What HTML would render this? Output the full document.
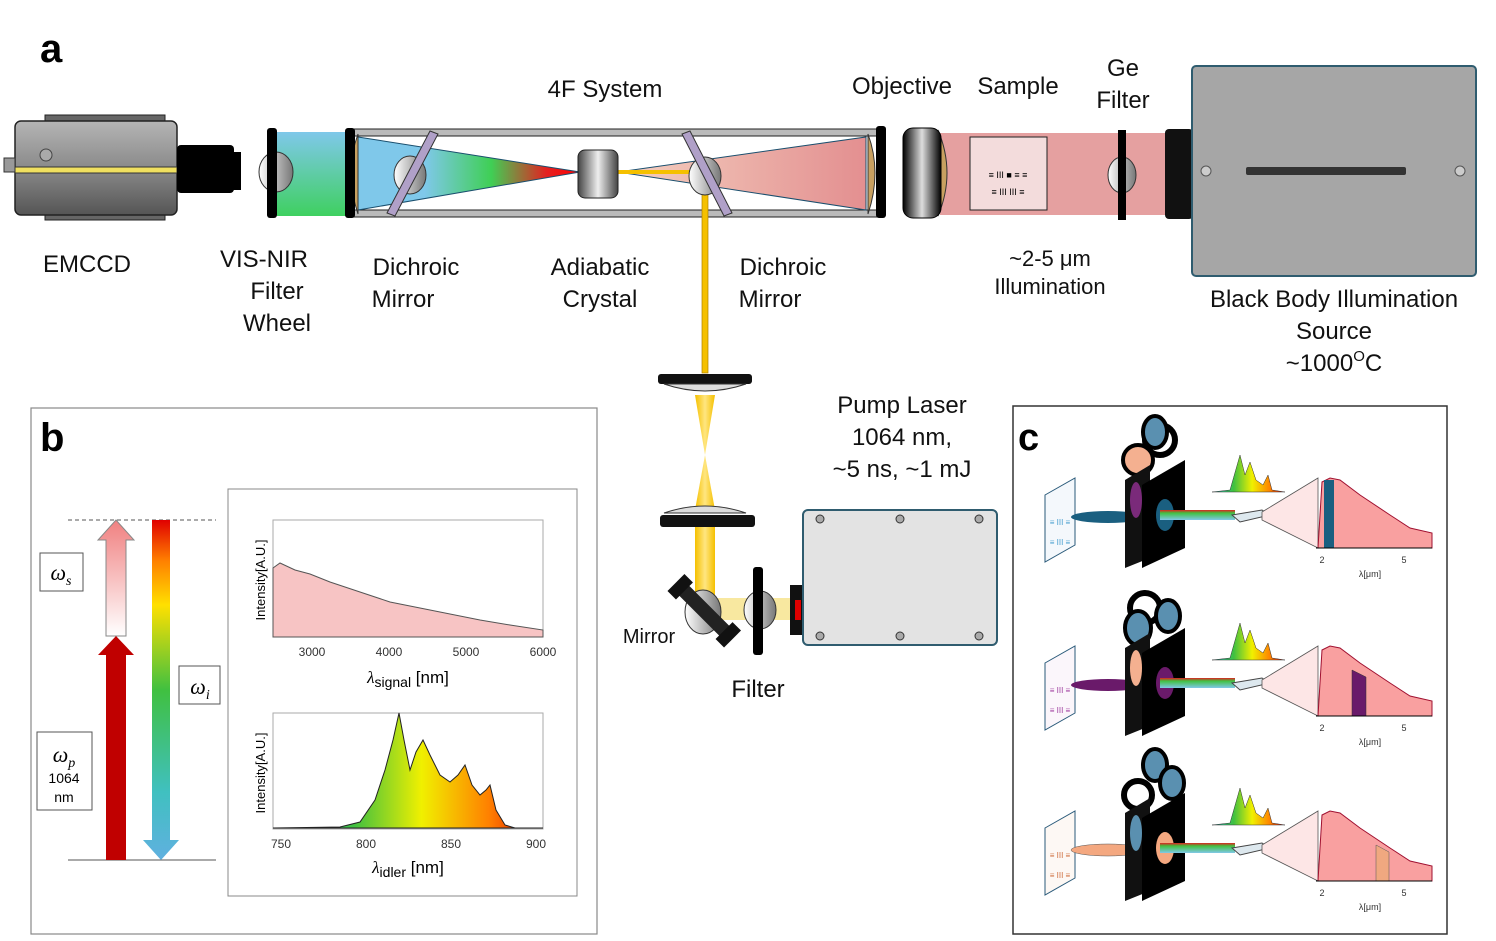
<!DOCTYPE html>
<html><head><meta charset="utf-8"><style>
html,body{margin:0;padding:0;background:#fff}
svg{display:block;font-family:"Liberation Sans",Arial,sans-serif}
</style></head><body>
<svg width="1496" height="941" viewBox="0 0 1496 941" xmlns="http://www.w3.org/2000/svg">
<defs>
<linearGradient id="cam" x1="0" y1="0" x2="0" y2="1"><stop offset="0" stop-color="#b5b5b5"/><stop offset="0.5" stop-color="#8a8a8a"/><stop offset="1" stop-color="#555"/></linearGradient>
<linearGradient id="bg1" x1="0" y1="0" x2="0" y2="1"><stop offset="0" stop-color="#7fc8ea"/><stop offset="1" stop-color="#3fd060"/></linearGradient>
<linearGradient id="cone1" x1="0" y1="0" x2="1" y2="0"><stop offset="0" stop-color="#7fc8ea"/><stop offset="0.3" stop-color="#7fc8ea"/><stop offset="0.6" stop-color="#3fcf55"/><stop offset="0.85" stop-color="#e42020"/><stop offset="1" stop-color="#ff0000"/></linearGradient>
<linearGradient id="cone2" x1="0" y1="0" x2="1" y2="0"><stop offset="0" stop-color="#f4d0c0"/><stop offset="1" stop-color="#e38f90"/></linearGradient>
<linearGradient id="lens" x1="0" y1="0" x2="1" y2="0"><stop offset="0" stop-color="#fff"/><stop offset="1" stop-color="#777"/></linearGradient>
<linearGradient id="obj" x1="0" y1="0" x2="1" y2="0"><stop offset="0" stop-color="#000"/><stop offset="0.5" stop-color="#ddd"/><stop offset="1" stop-color="#000"/></linearGradient>
<linearGradient id="yel" x1="0" y1="0" x2="1" y2="0"><stop offset="0" stop-color="#f5c000"/><stop offset="0.5" stop-color="#ffe680"/><stop offset="1" stop-color="#f5c000"/></linearGradient>
<linearGradient id="arrR" x1="0" y1="0" x2="0" y2="1"><stop offset="0" stop-color="#f08080"/><stop offset="1" stop-color="#fff"/></linearGradient>
<linearGradient id="rain" x1="0" y1="0" x2="0" y2="1"><stop offset="0" stop-color="#e00000"/><stop offset="0.12" stop-color="#ff8000"/><stop offset="0.25" stop-color="#ffe000"/><stop offset="0.5" stop-color="#40c040"/><stop offset="0.8" stop-color="#40c0c0"/><stop offset="1" stop-color="#60b0e0"/></linearGradient>
<linearGradient id="rainH" x1="0" y1="0" x2="1" y2="0"><stop offset="0" stop-color="#20c0c0"/><stop offset="0.3" stop-color="#40c040"/><stop offset="0.55" stop-color="#f0f000"/><stop offset="0.8" stop-color="#ff8000"/><stop offset="1" stop-color="#e00000"/></linearGradient>
<linearGradient id="beam" x1="0" y1="0" x2="0" y2="1"><stop offset="0" stop-color="#e02020"/><stop offset="0.3" stop-color="#40c040"/><stop offset="1" stop-color="#80c8e8"/></linearGradient>
<linearGradient id="cryst" x1="0" y1="0" x2="1" y2="0"><stop offset="0" stop-color="#444"/><stop offset="0.5" stop-color="#eee"/><stop offset="1" stop-color="#444"/></linearGradient>
</defs>

<!-- ===== Panel a ===== -->
<text x="40" y="62" font-size="40" font-weight="bold">a</text>
<!-- camera -->
<rect x="45" y="115" width="120" height="12" fill="#666" stroke="#222"/>
<rect x="45" y="208" width="120" height="12" fill="#666" stroke="#222"/>
<rect x="15" y="121" width="162" height="94" rx="6" fill="url(#cam)" stroke="#222" stroke-width="1.5"/>
<rect x="15" y="167" width="162" height="6" fill="#f0e060" stroke="#333"/>
<rect x="4" y="158" width="11" height="14" fill="#999" stroke="#333"/>
<ellipse cx="46" cy="155" rx="6" ry="6" fill="#aaa" stroke="#444"/>
<rect x="177" y="145" width="57" height="48" rx="4" fill="#000"/>
<rect x="232" y="152" width="9" height="38" fill="#000"/>
<!-- filter wheel -->
<rect x="277" y="132" width="73" height="84" fill="url(#bg1)"/>
<ellipse cx="276" cy="172" rx="17" ry="20" fill="url(#lens)" stroke="#333"/>
<rect x="267" y="128" width="10" height="90" rx="3" fill="#000"/>
<!-- 4F tube -->
<rect x="352" y="129" width="528" height="7" fill="#bbb" stroke="#222"/>
<rect x="352" y="210" width="528" height="7" fill="#bbb" stroke="#222"/>
<polygon points="358,137 580,172 358,210" fill="url(#cone1)" stroke="#1a4f6e" stroke-width="1"/>
<polygon points="618,172 866,137 866,210" fill="url(#cone2)" stroke="#1a4f6e" stroke-width="1"/>
<rect x="618" y="170" width="90" height="4" fill="#f5c000"/>
<path d="M358,134 q-14,38 0,80 z" fill="#c8a060" stroke="#333"/>
<rect x="345" y="128" width="10" height="90" rx="3" fill="#000"/>
<path d="M868,134 q14,38 0,80 z" fill="#c8a060" stroke="#333"/>
<rect x="876" y="126" width="10" height="92" rx="3" fill="#000"/>
<ellipse cx="410" cy="175" rx="16" ry="19" fill="url(#lens)" stroke="#333"/>
<polygon points="430,131 438,134 395,216 387,213" fill="#b0a0c8" stroke="#333"/>
<rect x="578" y="150" width="40" height="48" rx="7" fill="url(#cryst)" stroke="#222"/>
<rect x="702" y="173" width="6" height="200" fill="#f5c000" stroke="#b08000" stroke-width="0.7"/>
<ellipse cx="705" cy="176" rx="16" ry="19" fill="url(#lens)" stroke="#333"/>
<polygon points="690,131 682,134 724,216 732,213" fill="#b0a0c8" stroke="#333"/>
<!-- objective / sample -->
<rect x="940" y="133" width="226" height="82" fill="#e5a0a0"/>
<path d="M938,130 q18,43 0,86 z" fill="#c8a060" stroke="#333"/>
<rect x="903" y="128" width="38" height="90" rx="10" fill="url(#obj)" stroke="#000"/>
<rect x="970" y="137" width="77" height="73" fill="#f3dcdc" stroke="#222"/>
<text x="1008" y="178" font-size="9" text-anchor="middle">≡ III ■ ≡ ≡</text>
<text x="1008" y="195" font-size="9" text-anchor="middle">≡ III   III ≡</text>
<ellipse cx="1122" cy="175" rx="14" ry="18" fill="url(#lens)" stroke="#333"/>
<rect x="1118" y="130" width="8" height="90" fill="#000"/>
<rect x="1165" y="129" width="28" height="90" rx="4" fill="#111"/>
<!-- black body -->
<rect x="1192" y="66" width="284" height="210" rx="4" fill="#a6a6a6" stroke="#2f5c6f" stroke-width="2"/>
<rect x="1246" y="167" width="160" height="8" rx="2" fill="#333"/>
<circle cx="1206" cy="171" r="5" fill="#ccc" stroke="#555"/>
<circle cx="1460" cy="171" r="5" fill="#ccc" stroke="#555"/>
<!-- pump path -->
<rect x="658" y="374" width="94" height="10" rx="3" fill="#111"/>
<path d="M664,384 q41,14 82,0 z" fill="#ddd" stroke="#333"/>
<polygon points="695,395 715,395 705,455" fill="url(#yel)"/>
<polygon points="705,455 695,510 715,510" fill="url(#yel)"/>
<path d="M664,513 q41,-14 82,0 z" fill="#ddd" stroke="#333"/>
<rect x="660" y="515" width="95" height="12" rx="3" fill="#111"/>
<rect x="695" y="527" width="20" height="80" fill="url(#yel)"/>
<rect x="705" y="598" width="95" height="22" fill="#f8e8a0"/>
<ellipse cx="703" cy="612" rx="18" ry="22" fill="url(#lens)" stroke="#333"/>
<g transform="rotate(45 700 615)"><rect x="665" y="602" width="70" height="14" rx="3" fill="#222"/><rect x="660" y="597" width="12" height="24" fill="#111"/><rect x="728" y="597" width="12" height="24" fill="#111"/></g>
<ellipse cx="760" cy="610" rx="16" ry="19" fill="url(#lens)" stroke="#333"/>
<rect x="753" y="567" width="10" height="88" rx="3" fill="#000"/>
<rect x="790" y="585" width="13" height="50" fill="#111"/>
<rect x="795" y="600" width="6" height="20" fill="#d00"/>
<rect x="803" y="510" width="194" height="135" rx="5" fill="#e3e3e3" stroke="#2f5c6f" stroke-width="2"/>
<g fill="#aaa" stroke="#333"><circle cx="820" cy="519" r="4"/><circle cx="900" cy="519" r="4"/><circle cx="979" cy="519" r="4"/><circle cx="820" cy="636" r="4"/><circle cx="900" cy="636" r="4"/><circle cx="979" cy="636" r="4"/></g>

<!-- labels a -->
<g font-size="24" fill="#111" text-anchor="middle">
<text x="605" y="97">4F System</text>
<text x="902" y="94">Objective</text>
<text x="1018" y="94">Sample</text>
<text x="1123" y="76">Ge</text><text x="1123" y="108">Filter</text>
<text x="87" y="272">EMCCD</text>
<text x="264" y="267">VIS-NIR</text><text x="277" y="299">Filter</text><text x="277" y="331">Wheel</text>
<text x="416" y="275">Dichroic</text><text x="403" y="307">Mirror</text>
<text x="600" y="275">Adiabatic</text><text x="600" y="307">Crystal</text>
<text x="783" y="275">Dichroic</text><text x="770" y="307">Mirror</text>
<text x="1050" y="266" font-size="22">~2-5 μm</text><text x="1050" y="294" font-size="22">Illumination</text>
<text x="1334" y="307">Black Body Illumination</text><text x="1334" y="339">Source</text>
<text x="1334" y="371">~1000<tspan font-size="15" dy="-10">O</tspan><tspan dy="10">C</tspan></text>
<text x="902" y="413">Pump Laser</text><text x="902" y="445">1064 nm,</text><text x="902" y="477">~5 ns, ~1 mJ</text>
<text x="758" y="697">Filter</text>
<text x="649" y="643" font-size="20">Mirror</text>
</g>

<!-- ===== Panel b ===== -->
<rect x="31" y="408" width="566" height="526" fill="#fff" stroke="#888" stroke-width="1.2"/>
<text x="40" y="451" font-size="40" font-weight="bold">b</text>
<line x1="68" y1="520" x2="216" y2="520" stroke="#555" stroke-dasharray="4,3"/>
<line x1="68" y1="860" x2="216" y2="860" stroke="#555"/>
<polygon points="106,636 106,540 98,540 116,520 134,540 126,540 126,636" fill="url(#arrR)" stroke="#888"/>
<polygon points="106,860 106,655 98,655 116,636 134,655 126,655 126,860" fill="#c00000"/>
<polygon points="152,520 170,520 170,840 179,840 161,860 143,840 152,840" fill="url(#rain)"/>
<rect x="40" y="553" width="43" height="38" fill="#fff" stroke="#555"/>
<text x="61" y="580" font-size="22" font-family="Liberation Serif" font-style="italic" text-anchor="middle">ω<tspan font-size="14" dy="5">s</tspan></text>
<rect x="179" y="666" width="41" height="38" fill="#fff" stroke="#555"/>
<text x="200" y="694" font-size="22" font-family="Liberation Serif" font-style="italic" text-anchor="middle">ω<tspan font-size="14" dy="5">i</tspan></text>
<rect x="37" y="732" width="55" height="78" fill="#fff" stroke="#555"/>
<text x="64" y="762" font-size="22" font-family="Liberation Serif" font-style="italic" text-anchor="middle">ω<tspan font-size="14" dy="5">p</tspan></text>
<text x="64" y="783" font-size="14" text-anchor="middle">1064</text>
<text x="64" y="802" font-size="14" text-anchor="middle">nm</text>

<rect x="228" y="489" width="349" height="407" fill="#fff" stroke="#888"/>
<rect x="273" y="520" width="270" height="117" fill="#fff" stroke="#aaa"/>
<path d="M273,637 L273,568 L280,563 L295,570 L310,574 L330,582 L360,592 L390,602 L420,608 L450,614 L480,620 L510,625 L543,630 L543,637 Z" fill="#f7c4c4" stroke="#555" stroke-width="1"/>
<g font-size="12" fill="#333" text-anchor="middle"><text x="312" y="656">3000</text><text x="389" y="656">4000</text><text x="466" y="656">5000</text><text x="543" y="656">6000</text></g>
<text x="265" y="580" font-size="13" text-anchor="middle" transform="rotate(-90 265 580)">Intensity[A.U.]</text>
<text x="408" y="683" font-size="17" text-anchor="middle"><tspan font-family="Liberation Serif" font-style="italic">λ</tspan><tspan font-size="14" dy="4">signal</tspan><tspan dy="-4"> [nm]</tspan></text>

<rect x="273" y="713" width="270" height="116" fill="#fff" stroke="#aaa"/>
<path d="M273,828 L340,827 L360,822 L375,800 L385,770 L393,740 L399,713 L404,740 L410,770 L416,752 L423,740 L430,755 L440,775 L450,782 L458,775 L465,765 L472,785 L480,795 L486,790 L490,785 L496,810 L505,825 L515,828 L543,828 Z" fill="url(#rainH)" stroke="#222" stroke-width="1"/>
<g font-size="12" fill="#333" text-anchor="middle"><text x="281" y="848">750</text><text x="366" y="848">800</text><text x="451" y="848">850</text><text x="536" y="848">900</text></g>
<text x="265" y="773" font-size="13" text-anchor="middle" transform="rotate(-90 265 773)">Intensity[A.U.]</text>
<text x="408" y="873" font-size="17" text-anchor="middle"><tspan font-family="Liberation Serif" font-style="italic">λ</tspan><tspan font-size="14" dy="4">idler</tspan><tspan dy="-4"> [nm]</tspan></text>

<!-- ===== Panel c ===== -->
<rect x="1013" y="406" width="434" height="528" fill="#fff" stroke="#333" stroke-width="1.5"/>
<text x="1018" y="450" font-size="38" font-weight="bold">c</text>

<g id="row1">
<polygon points="1045,495 1075,478 1075,545 1045,562" fill="#f4f8fc" stroke="#2a5a7a"/>
<text x="1060" y="525" font-size="8" fill="#4aa0d0" text-anchor="middle">≡ III ≡</text>
<text x="1060" y="545" font-size="8" fill="#4aa0d0" text-anchor="middle">≡ III ≡</text>
<ellipse cx="1108" cy="517" rx="37" ry="6" fill="#1a5f80"/>
<circle cx="1160" cy="440" r="15" fill="none" stroke="#000" stroke-width="6"/>
<circle cx="1138" cy="460" r="15" fill="#f4b090" stroke="#000" stroke-width="4"/>
<ellipse cx="1155" cy="432" rx="12" ry="16" fill="#5a90b0" stroke="#000" stroke-width="4"/>
<polygon points="1125,480 1150,465 1150,558 1125,568" fill="#111"/>
<polygon points="1142,485 1185,460 1185,548 1142,568" fill="#000"/>
<ellipse cx="1136" cy="500" rx="6" ry="18" fill="#7a2a7a"/>
<ellipse cx="1165" cy="515" rx="9" ry="16" fill="#1a5f80"/>
<rect x="1160" y="510" width="75" height="10" fill="url(#beam)"/>
<polygon points="1232,515 1262,510 1270,515 1240,522" fill="#dde8ee" stroke="#444"/>
<polygon points="1262,512 1318,478 1318,548 1262,520" fill="#fde6e6" stroke="#555" stroke-width="0.8"/>
<path d="M1318,548 L1322,482 L1330,478 L1340,480 L1360,495 L1390,515 L1410,528 L1432,533 L1432,548 Z" fill="#f9a0a0" stroke="#a01030"/>
<rect x="1324" y="480" width="10" height="68" fill="#1a5f80"/>
<line x1="1316" y1="548" x2="1432" y2="548" stroke="#000"/>
<path d="M1212,492 L1230,490 L1240,455 L1245,475 L1250,462 L1256,480 L1263,485 L1268,475 L1272,490 L1285,492 Z" fill="url(#rainH)" stroke="#333" stroke-width="0.5"/>
<text x="1322" y="563" font-size="9" fill="#333" text-anchor="middle">2</text>
<text x="1404" y="563" font-size="9" fill="#333" text-anchor="middle">5</text>
<text x="1370" y="577" font-size="9" fill="#333" text-anchor="middle">λ[μm]</text>
</g>

<g transform="translate(0,168)">
<polygon points="1045,495 1075,478 1075,545 1045,562" fill="#fbf6fb" stroke="#2a5a7a"/>
<text x="1060" y="525" font-size="8" fill="#a040a0" text-anchor="middle">≡ III ≡</text>
<text x="1060" y="545" font-size="8" fill="#a040a0" text-anchor="middle">≡ III ≡</text>
<ellipse cx="1108" cy="517" rx="37" ry="6" fill="#6a1a6a"/>
<circle cx="1145" cy="440" r="15" fill="none" stroke="#000" stroke-width="6"/>
<ellipse cx="1138" cy="460" rx="13" ry="17" fill="#5a90b0" stroke="#000" stroke-width="4"/>
<ellipse cx="1168" cy="448" rx="12" ry="16" fill="#5a90b0" stroke="#000" stroke-width="4"/>
<polygon points="1125,480 1150,465 1150,558 1125,568" fill="#111"/>
<polygon points="1142,485 1185,460 1185,548 1142,568" fill="#000"/>
<ellipse cx="1136" cy="500" rx="6" ry="18" fill="#f4b090"/>
<ellipse cx="1165" cy="515" rx="9" ry="16" fill="#6a1a6a"/>
<rect x="1160" y="510" width="75" height="10" fill="url(#beam)"/>
<polygon points="1232,515 1262,510 1270,515 1240,522" fill="#dde8ee" stroke="#444"/>
<polygon points="1262,512 1318,478 1318,548 1262,520" fill="#fde6e6" stroke="#555" stroke-width="0.8"/>
<path d="M1318,548 L1322,482 L1330,478 L1340,480 L1360,495 L1390,515 L1410,528 L1432,533 L1432,548 Z" fill="#f9a0a0" stroke="#a01030"/>
<polygon points="1352,502 1366,509 1366,548 1352,548" fill="#6a1a6a" stroke="#333" stroke-width="0.5"/>
<line x1="1316" y1="548" x2="1432" y2="548" stroke="#000"/>
<path d="M1212,492 L1230,490 L1240,455 L1245,475 L1250,462 L1256,480 L1263,485 L1268,475 L1272,490 L1285,492 Z" fill="url(#rainH)" stroke="#333" stroke-width="0.5"/>
<text x="1322" y="563" font-size="9" fill="#333" text-anchor="middle">2</text>
<text x="1404" y="563" font-size="9" fill="#333" text-anchor="middle">5</text>
<text x="1370" y="577" font-size="9" fill="#333" text-anchor="middle">λ[μm]</text>
</g>

<g transform="translate(0,333)">
<polygon points="1045,495 1075,478 1075,545 1045,562" fill="#fdf8f4" stroke="#2a5a7a"/>
<text x="1060" y="525" font-size="8" fill="#d07040" text-anchor="middle">≡ III ≡</text>
<text x="1060" y="545" font-size="8" fill="#d07040" text-anchor="middle">≡ III ≡</text>
<ellipse cx="1108" cy="517" rx="37" ry="6" fill="#f4a880" stroke="#555" stroke-width="0.5"/>
<ellipse cx="1155" cy="432" rx="12" ry="16" fill="#5a90b0" stroke="#000" stroke-width="4"/>
<ellipse cx="1172" cy="450" rx="12" ry="16" fill="#5a90b0" stroke="#000" stroke-width="4"/>
<circle cx="1138" cy="462" r="14" fill="none" stroke="#000" stroke-width="6"/>
<polygon points="1125,480 1150,465 1150,558 1125,568" fill="#111"/>
<polygon points="1142,485 1185,460 1185,548 1142,568" fill="#000"/>
<ellipse cx="1136" cy="500" rx="6" ry="18" fill="#5a90b0"/>
<ellipse cx="1165" cy="515" rx="9" ry="16" fill="#f4a880"/>
<rect x="1160" y="510" width="75" height="10" fill="url(#beam)"/>
<polygon points="1232,515 1262,510 1270,515 1240,522" fill="#dde8ee" stroke="#444"/>
<polygon points="1262,512 1318,478 1318,548 1262,520" fill="#fde6e6" stroke="#555" stroke-width="0.8"/>
<path d="M1318,548 L1322,482 L1330,478 L1340,480 L1360,495 L1390,515 L1410,528 L1432,533 L1432,548 Z" fill="#f9a0a0" stroke="#a01030"/>
<polygon points="1376,512 1389,519 1389,548 1376,548" fill="#f0a880" stroke="#555" stroke-width="0.5"/>
<line x1="1316" y1="548" x2="1432" y2="548" stroke="#000"/>
<path d="M1212,492 L1230,490 L1240,455 L1245,475 L1250,462 L1256,480 L1263,485 L1268,475 L1272,490 L1285,492 Z" fill="url(#rainH)" stroke="#333" stroke-width="0.5"/>
<text x="1322" y="563" font-size="9" fill="#333" text-anchor="middle">2</text>
<text x="1404" y="563" font-size="9" fill="#333" text-anchor="middle">5</text>
<text x="1370" y="577" font-size="9" fill="#333" text-anchor="middle">λ[μm]</text>
</g>
</svg>
</body></html>
